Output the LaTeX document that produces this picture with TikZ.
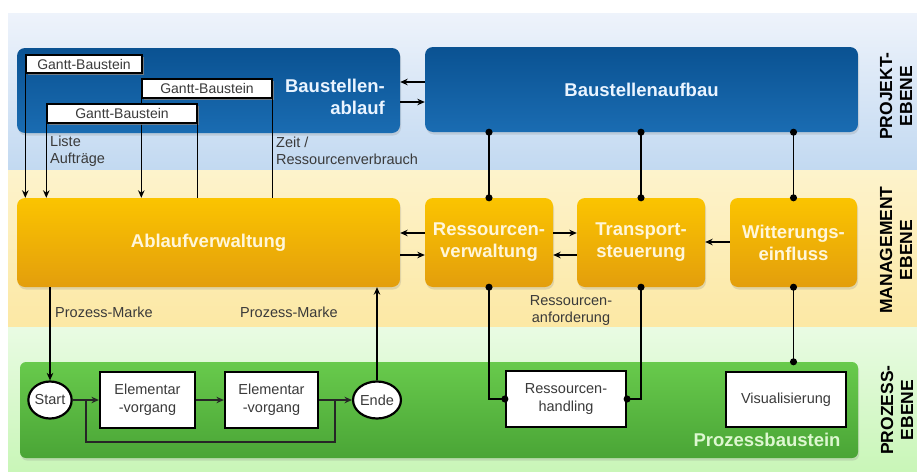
\documentclass[tikz,border=0pt]{standalone}
\usepackage{fontspec}
\setmainfont{Liberation Sans}
\usetikzlibrary{arrows.meta,shapes.geometric,shadows}

\definecolor{bandBlueTop}{HTML}{EEF3FB}
\definecolor{bandBlueBot}{HTML}{C2D9F1}
\definecolor{bandYelTop}{HTML}{FDF3CC}
\definecolor{bandYelBot}{HTML}{FCE8A4}
\definecolor{bandGrnTop}{HTML}{E9FBE3}
\definecolor{bandGrnBot}{HTML}{C9F6B8}
\definecolor{boxBlueTop}{HTML}{0A5292}
\definecolor{boxBlueBot}{HTML}{1A6CB2}
\definecolor{boxOrTop}{HTML}{FBC400}
\definecolor{boxOrBot}{HTML}{E39E0C}
\definecolor{boxGrnTop}{HTML}{68CA4C}
\definecolor{boxGrnBot}{HTML}{4AA536}
\definecolor{txtBlue}{HTML}{EAF4FF}
\definecolor{txtOr}{HTML}{FFF6DA}
\definecolor{txtGrn}{HTML}{DDF7D0}
\definecolor{txtGray}{HTML}{3A3A3A}

\begin{document}
\begin{tikzpicture}[x=1pt,y=-1pt,
  bigfont/.style={font=\fontsize{18.5}{22}\selectfont\bfseries},
  small/.style={font=\fontsize{14.5}{17}\selectfont, text=txtGray, inner sep=0pt},
  side/.style={font=\fontsize{17.5}{20}\selectfont\bfseries, text=black, align=center, inner sep=0pt},
  softshadow/.style={drop shadow={opacity=0.22, shadow xshift=1pt, shadow yshift=-2.5pt}},
  bluebox/.style={rectangle, rounded corners=8pt, top color=boxBlueTop, bottom color=boxBlueBot,
    draw=none, softshadow, bigfont, text=txtBlue},
  orbox/.style={rectangle, rounded corners=8pt, top color=boxOrTop, bottom color=boxOrBot,
    draw=none, softshadow, bigfont, text=txtOr, align=center},
  grnbox/.style={rectangle, rounded corners=6pt, top color=boxGrnTop, bottom color=boxGrnBot,
    draw=none, softshadow},
  gantt/.style={rectangle, fill=white, draw=black, line width=1.4pt, inner sep=0pt,
    font=\fontsize{14}{16}\selectfont, text=txtGray,
    drop shadow={opacity=0.85, shadow xshift=1.5pt, shadow yshift=-1.5pt}},
  elem/.style={rectangle, fill=white, draw=black, line width=2.2pt, inner sep=0pt,
    font=\fontsize{14.5}{18}\selectfont, text=txtGray, align=center},
  term/.style={ellipse, fill=white, draw=black, line width=2.2pt, inner sep=0pt,
    minimum width=41pt, minimum height=37pt, font=\fontsize{14.5}{16}\selectfont, text=txtGray},
  conn/.style={line width=1.2pt, draw=black},
  arr/.style={conn, -{Stealth[length=7.5pt,width=6.5pt]}},
  dotline/.style={conn, {Circle[length=7pt]}-{Circle[length=7pt]},
    shorten <=-3.5pt, shorten >=-3.5pt},
  flow/.style={line width=1.4pt, draw=black!85},
  flowarr/.style={flow, -{Stealth[length=7.5pt,width=6.5pt]}}
]
\useasboundingbox (0,0) rectangle (917,471);
\fill[white] (0,0) rectangle (917,471);

% three level bands
\shade[top color=bandBlueTop, bottom color=bandBlueBot] (8,13) rectangle (917,170);
\shade[top color=bandYelTop, bottom color=bandYelBot] (8,170) rectangle (917,327);
\shade[top color=bandGrnTop, bottom color=bandGrnBot] (8,327) rectangle (917,471);

% project level
\node[bluebox, minimum width=383pt, minimum height=85pt] (ablauf) at (208.5,90.5) {};
\node[bigfont, text=txtBlue, anchor=east, align=right, inner sep=0pt] (ablauftxt) at (385,97) {Baustellen-\\ablauf};
\node[bluebox, minimum width=433pt, minimum height=85pt] (aufbau) at (641.5,89.5) {Baustellenaufbau};

% management level
\node[orbox, minimum width=383pt, minimum height=89pt] (av) at (208.5,242.5) {Ablaufverwaltung};
\node[orbox, minimum width=128pt, minimum height=89pt] (rv) at (489,242.5) {Ressourcen-\\verwaltung};
\node[orbox, minimum width=128pt, minimum height=89pt] (ts) at (641,242.5) {Transport-\\steuerung};
\node[orbox, minimum width=127pt, minimum height=89pt] (we) at (793.5,242.5) {Witterungs-\\einfluss};

% process level
\node[grnbox, minimum width=838pt, minimum height=96pt] (pb) at (439,410) {};
\node[font=\fontsize{18.5}{22}\selectfont\bfseries, text=txtGrn, inner sep=0pt] (pbtxt) at (767,440) {Prozessbaustein};

\node[term] (start) at (50,400) {Start};
\node[elem, minimum width=95pt, minimum height=56pt] (e1) at (147.5,400) {Elementar\\-vorgang};
\node[elem, minimum width=93pt, minimum height=56pt] (e2) at (271.5,400) {Elementar\\-vorgang};
\node[term] (ende) at (377,400) {Ende};
\node[elem, minimum width=120pt, minimum height=56pt] (rh) at (566,399) {Ressourcen-\\handling};
\node[elem, minimum width=120pt, minimum height=55pt] (vis) at (786,399.5) {Visualisierung};

% Gantt blocks and their links to the schedule management
\node[gantt, minimum width=116pt, minimum height=18pt] (g1) at (84,64) {Gantt-Baustein};
\node[gantt, minimum width=130pt, minimum height=19pt] (g2) at (207,88.5) {Gantt-Baustein};
\draw[arr] (g2.south west) -- (g2.south west |- av.north);
\node[gantt, minimum width=150pt, minimum height=19pt] (g3) at (122,113.5) {Gantt-Baustein};
\draw[arr] (g1.south west) -- (g1.south west |- av.north);
\draw[arr] (g3.south west) -- (g3.south west |- av.north);
\draw[conn] (g3.south east) -- (g3.south east |- av.north);
\draw[conn] (g2.south east) -- (g2.south east |- av.north);

% horizontal exchanges
\draw[arr] (aufbau.west |- 0,82) -- (ablauf.east |- 0,82);
\draw[arr] (ablauf.east |- 0,102) -- (aufbau.west |- 0,102);
\draw[arr] (rv.west |- 0,233) -- (av.east |- 0,233);
\draw[arr] (av.east |- 0,255) -- (rv.west |- 0,255);
\draw[arr] (rv.east |- 0,233) -- (ts.west |- 0,233);
\draw[arr] (ts.west |- 0,255) -- (rv.east |- 0,255);
\draw[arr] (we.west |- 0,242) -- (ts.east |- 0,242);

% vertical links with dots
\draw[dotline] (aufbau.south -| rv.north) -- (rv.north);
\draw[dotline] (aufbau.south -| ts.north) -- (ts.north);
\draw[dotline] (aufbau.south -| we.north) -- (we.north);
\draw[dotline] (rv.south) |- (rh.west);
\draw[dotline] (ts.south) |- (rh.east);
\draw[dotline] (we.south) -- (we.south |- pb.north);

% process flow
\draw[arr] (av.south -| start.north) -- (start.north);
\draw[arr] (ende.north) -- (ende.north |- av.south);
\coordinate (split) at (86,400);
\coordinate (join) at (335,400);
\draw[flowarr] (start.east) -- (e1.west);
\draw[flowarr] (e1.east) -- (e2.west);
\draw[flowarr] (e2.east) -- (ende.west);
\draw[flow] (split) -- (86,442) -| (join);

% labels
\node[small, anchor=west, align=left] (lst) at (50,151) {Liste\\Aufträge};
\node[small, anchor=west, align=left] (zeit) at (276,151) {Zeit /\\Ressourcenverbrauch};
\node[small, anchor=west] (pm1) at (55,312) {Prozess-Marke};
\node[small, anchor=west] (pm2) at (240,312) {Prozess-Marke};
\node[small, align=center] (ranf) at (571,311) {Ressourcen-\\anforderung};

% level captions
\node[side, rotate=90] (lp) at (896,96) {PROJEKT-\\EBENE};
\node[side, rotate=90] (lm) at (896,250) {MANAGEMENT\\EBENE};
\node[side, rotate=90] (lz) at (897,410) {PROZESS-\\EBENE};
\end{tikzpicture}
\end{document}
